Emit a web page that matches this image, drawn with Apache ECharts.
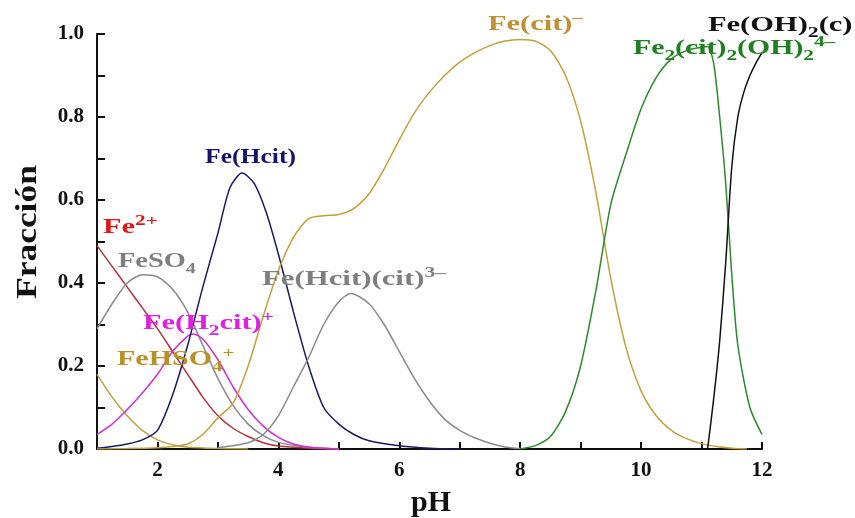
<!DOCTYPE html>
<html>
<head>
<meta charset="utf-8">
<script src="https://cdn.jsdelivr.net/npm/echarts@6/dist/echarts.min.js"></script>
<style>
  html, body { margin: 0; padding: 0; background: #ffffff; }
  #chart { width: 855px; height: 518px; }
</style>
</head>
<body>
<div id="chart"></div>
<script>
// Iron(II) speciation in sulfate / citrate medium: molar fraction vs pH

const xTicks = [2, 4, 6, 8, 10, 12];
const yTicks = [0.0, 0.2, 0.4, 0.6, 0.8, 1.0];

// Fe2+
const phFe = [1, 1.25, 1.5, 1.75, 2, 2.25, 2.5, 2.75, 3, 3.25, 3.5, 3.75, 4, 4.5, 5];
const fracFe = [0.49, 0.44, 0.39, 0.34, 0.29, 0.235, 0.18, 0.125, 0.08, 0.05, 0.03, 0.015, 0.007, 0.002, 0];

// FeSO4
const phFeSO4 = [1, 1.25, 1.5, 1.75, 2, 2.25, 2.5, 2.75, 3, 3.25, 3.5, 3.75, 4, 4.5, 5];
const fracFeSO4 = [0.29, 0.35, 0.40, 0.42, 0.415, 0.385, 0.33, 0.25, 0.17, 0.105, 0.06, 0.032, 0.016, 0.004, 0];

// FeHSO4+
const phFeHSO4 = [1, 1.25, 1.5, 1.75, 2, 2.25, 2.5, 3, 3.5];
const fracFeHSO4 = [0.18, 0.125, 0.08, 0.045, 0.022, 0.01, 0.004, 0.001, 0];

// Fe(H2cit)+
const phFeH2cit = [1, 1.25, 1.5, 1.75, 2, 2.25, 2.5, 2.6, 2.75, 3, 3.25, 3.5, 3.75, 4, 4.25, 4.5, 5];
const fracFeH2cit = [0.035, 0.06, 0.095, 0.135, 0.18, 0.235, 0.272, 0.277, 0.265, 0.215, 0.15, 0.095, 0.055, 0.028, 0.012, 0.005, 0];

// Fe(Hcit)
const phFeHcit = [1, 1.25, 1.5, 1.75, 2, 2.25, 2.5, 2.75, 3, 3.2, 3.4, 3.6, 3.8, 4, 4.25, 4.5, 4.75, 5, 5.25, 5.5, 6, 6.5, 7];
const fracFeHcit = [0.002, 0.006, 0.012, 0.022, 0.045, 0.13, 0.25, 0.39, 0.52, 0.63, 0.665, 0.64, 0.57, 0.47, 0.33, 0.2, 0.1, 0.06, 0.035, 0.02, 0.008, 0.002, 0];

// Fe(Hcit)(cit)3-
const phFeHcitCit = [3, 3.5, 3.75, 4, 4.25, 4.5, 4.75, 5, 5.2, 5.5, 5.75, 6, 6.25, 6.5, 6.75, 7, 7.25, 7.5, 7.75, 8];
const fracFeHcitCit = [0.003, 0.015, 0.035, 0.08, 0.15, 0.22, 0.3, 0.355, 0.375, 0.35, 0.3, 0.235, 0.17, 0.115, 0.072, 0.045, 0.027, 0.014, 0.005, 0.001];

// Fe(cit)-
const phFeCit = [1, 1.5, 2, 2.25, 2.5, 2.75, 3, 3.25, 3.5, 3.75, 4, 4.25, 4.5, 4.75, 5, 5.25, 5.5, 5.75, 6, 6.25, 6.5, 6.75, 7, 7.25, 7.5, 7.75, 8, 8.25, 8.5, 8.75, 9, 9.25, 9.5, 9.75, 10, 10.25, 10.5, 10.75, 11, 11.25, 11.5, 11.75];
const fracFeCit = [0, 0.001, 0.003, 0.006, 0.012, 0.035, 0.075, 0.11, 0.2, 0.32, 0.43, 0.51, 0.555, 0.562, 0.565, 0.58, 0.615, 0.675, 0.745, 0.81, 0.86, 0.9, 0.932, 0.955, 0.972, 0.983, 0.987, 0.983, 0.96, 0.9, 0.79, 0.62, 0.41, 0.245, 0.14, 0.08, 0.045, 0.025, 0.013, 0.006, 0.002, 0];

// Fe2(cit)2(OH)2 4-
const phFe2cit = [8, 8.25, 8.5, 8.75, 9, 9.25, 9.5, 9.75, 10, 10.25, 10.5, 10.75, 11, 11.1, 11.2, 11.3, 11.4, 11.5, 11.6, 11.8, 12];
const fracFe2cit = [0, 0.008, 0.03, 0.09, 0.2, 0.38, 0.59, 0.71, 0.82, 0.895, 0.94, 0.96, 0.968, 0.97, 0.93, 0.8, 0.64, 0.42, 0.25, 0.1, 0.035];

// Fe(OH)2(c)
const phFeOH2 = [11.1, 11.2, 11.3, 11.4, 11.5, 11.6, 11.7, 11.8, 11.9, 12];
const fracFeOH2 = [0, 0.12, 0.26, 0.45, 0.68, 0.8, 0.86, 0.9, 0.93, 0.955];

const zip = (xs, ys) => xs.map((x, i) => [x, ys[i]]);

const SERIF = '"Liberation Serif", "Times New Roman", serif';

function curve(name, xs, ys, color) {
  return {
    name: name,
    type: 'line',
    data: zip(xs, ys),
    showSymbol: false,
    smooth: 0.25,
    lineStyle: { color: color, width: 1.5 },
    itemStyle: { color: color },
    emphasis: { disabled: true },
    z: 3
  };
}

const series = [
  curve('Fe2+', phFe, fracFe, '#b8303a'),
  curve('FeSO4', phFeSO4, fracFeSO4, '#8a8a8a'),
  curve('FeHSO4+', phFeHSO4, fracFeHSO4, '#c0a040'),
  curve('Fe(H2cit)+', phFeH2cit, fracFeH2cit, '#d030d0'),
  curve('Fe(Hcit)', phFeHcit, fracFeHcit, '#1a1a60'),
  curve('Fe(Hcit)(cit)3-', phFeHcitCit, fracFeHcitCit, '#8a8a8a'),
  curve('Fe(cit)-', phFeCit, fracFeCit, '#c4a03a'),
  curve('Fe2(cit)2(OH)2 4-', phFe2cit, fracFe2cit, '#2a8a2a'),
  curve('Fe(OH)2(c)', phFeOH2, fracFeOH2, '#111111')
];

function richStyles(color, size) {
  const small = Math.round(size * 0.72);
  return {
    b: { fontFamily: SERIF, fontWeight: 'bold', fontSize: size, fill: color, lineHeight: size + 8 },
    sup: { fontFamily: SERIF, fontWeight: 'bold', fontSize: small, fill: color, lineHeight: small, verticalAlign: 'top' },
    sub: { fontFamily: SERIF, fontWeight: 'bold', fontSize: small, fill: color, lineHeight: small, verticalAlign: 'bottom' }
  };
}

function label(text, x, y, color, size, stretch) {
  return {
    type: 'text',
    x: x,
    y: y,
    scaleX: stretch,
    z: 10,
    silent: true,
    style: {
      text: text,
      rich: richStyles(color, size),
      textAlign: 'left',
      textVerticalAlign: 'middle'
    }
  };
}

const labels = [
  label('{b|Fe}{sup|2+}', 103, 228, '#e01818', 20, 1.52),
  label('{b|FeSO}{sub|4}', 118, 262, '#7f7f7f', 20, 1.42),
  label('{b|FeHSO}{sub|4}{sup|+}', 117, 360, '#b8902a', 20, 1.5),
  label('{b|Fe(H}{sub|2}{b|cit)}{sup|+}', 143, 324, '#e020e0', 20, 1.52),
  label('{b|Fe(Hcit)}', 205, 158, '#14146e', 20, 1.28),
  label('{b|Fe(Hcit)(cit)}{sup|3–}', 262, 280, '#7f7f7f', 20, 1.54),
  label('{b|Fe(cit)}{sup|–}', 488, 25, '#c09030', 20, 1.52),
  label('{b|Fe(OH)}{sub|2}{b|(c)}', 708, 26, '#111111', 21, 1.45),
  label('{b|Fe}{sub|2}{b|(cit)}{sub|2}{b|(OH)}{sub|2}{sup|4–}', 633, 49, '#1e801e', 21, 1.42),
  {
    type: 'text',
    x: 28, y: 232,
    rotation: Math.PI / 2,
    scaleX: 1.18,
    silent: true,
    style: {
      text: 'Fracción',
      font: 'bold 30px ' + SERIF,
      fill: '#111111',
      textAlign: 'center',
      textVerticalAlign: 'middle'
    }
  },
  {
    type: 'text',
    x: 431, y: 503,
    silent: true,
    style: {
      text: 'pH',
      font: 'bold 30px ' + SERIF,
      fill: '#111111',
      textAlign: 'center',
      textVerticalAlign: 'middle'
    }
  }
];

const chart = echarts.init(document.getElementById('chart'), null, { renderer: 'canvas' });

chart.setOption({
  animation: false,
  backgroundColor: '#ffffff',
  grid: { left: 97, right: 93, top: 34, bottom: 69, containLabel: false },
  xAxis: {
    type: 'value',
    min: 1,
    max: 12,
    interval: 1,
    axisLine: { onZero: false, lineStyle: { color: '#111111', width: 2 } },
    axisTick: { inside: true, length: 7, lineStyle: { color: '#111111', width: 2 } },
    splitLine: { show: false },
    axisLabel: {
      margin: 11,
      color: '#111111',
      fontFamily: SERIF,
      fontWeight: 'bold',
      fontSize: 21,
      showMinLabel: true,
      showMaxLabel: true,
      formatter: v => (xTicks.indexOf(Math.round(v)) >= 0 ? String(Math.round(v)) : '')
    }
  },
  yAxis: {
    type: 'value',
    min: 0,
    max: 1,
    interval: 0.1,
    axisLine: { show: true, onZero: false, lineStyle: { color: '#111111', width: 2 } },
    axisTick: { show: true, inside: true, length: 8, lineStyle: { color: '#111111', width: 2 } },
    splitLine: { show: false },
    axisLabel: {
      margin: 13,
      color: '#111111',
      fontFamily: SERIF,
      fontWeight: 'bold',
      fontSize: 21,
      formatter: v => {
        const k = Math.round(v * 10);
        return yTicks.some(t => Math.round(t * 10) === k) ? (k / 10).toFixed(1) : '';
      }
    }
  },
  series: series,
  graphic: labels
});
</script>
</body>
</html>
